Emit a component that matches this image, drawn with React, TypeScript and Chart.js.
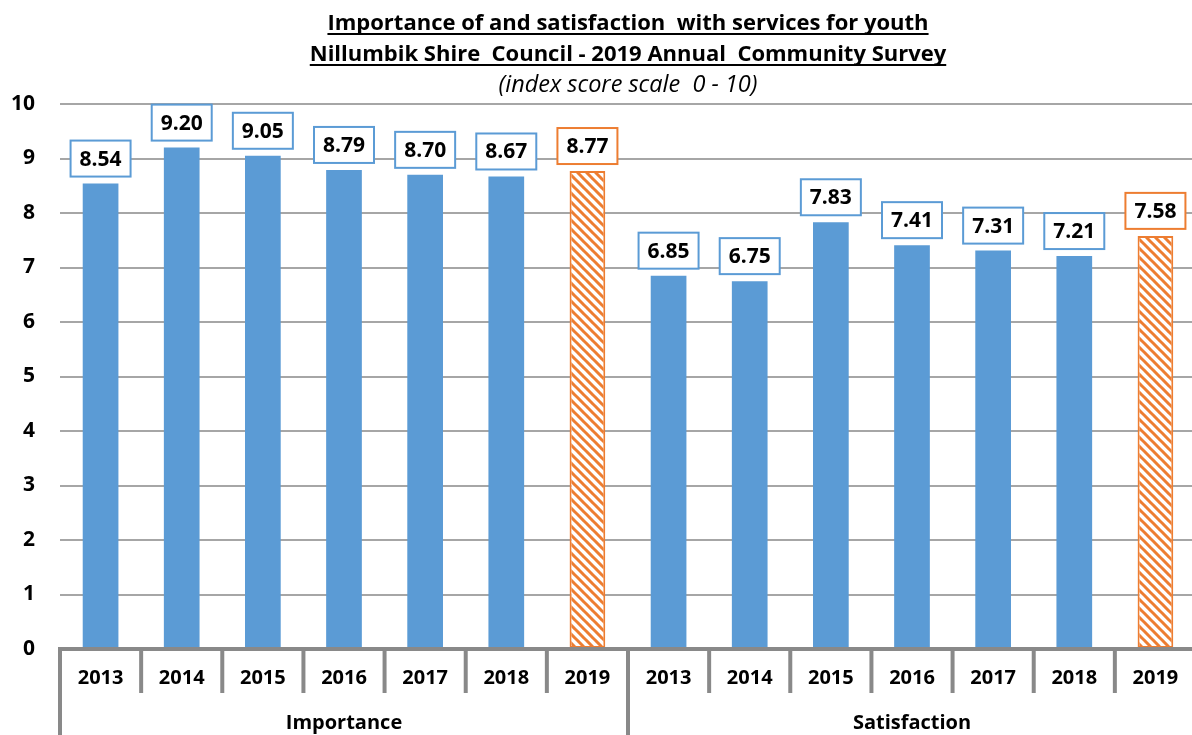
import React, { useEffect, useRef } from "react";
import { Chart, registerables } from "chart.js";

Chart.register(...registerables);

const years = ["2013", "2014", "2015", "2016", "2017", "2018", "2019"];
const groups = ["Importance", "Satisfaction"];
const importance = [8.54, 9.2, 9.05, 8.79, 8.7, 8.67, 8.77];
const satisfaction = [6.85, 6.75, 7.83, 7.41, 7.31, 7.21, 7.58];
const titleLines = [
  "Importance of and satisfaction  with services for youth",
  "Nillumbik Shire  Council - 2019 Annual  Community Survey",
];
const subtitle = "(index score scale  0 - 10)";
const yMin = 0;
const yMax = 10;
const yStep = 1;

const BLUE = "#5b9bd5";
const ORANGE = "#ed7d31";
const GRID = "#a6a6a6";
const AXIS = "#898989";
const FONT = "'Open Sans', Lato, sans-serif";

const labels = [...years, ...years];
const values = [...importance, ...satisfaction];
const isCurrent = labels.map((l) => l === "2019");

function makePattern(): CanvasPattern | string {
  const p = document.createElement("canvas");
  p.width = 9;
  p.height = 9;
  const c = p.getContext("2d");
  if (!c) return ORANGE;
  c.fillStyle = "#ffffff";
  c.fillRect(0, 0, 9, 9);
  c.strokeStyle = ORANGE;
  c.lineWidth = 3;
  c.beginPath();
  for (const k of [-9, 0, 9]) {
    c.moveTo(k - 1, -1);
    c.lineTo(k + 10, 10);
  }
  c.stroke();
  const pat = c.createPattern(p, "repeat");
  return pat || ORANGE;
}

const titlePlugin = {
  id: "titlePlugin",
  afterDraw(chart: any) {
    const { ctx, chartArea } = chart;
    const cx = (chartArea.left + chartArea.right) / 2;
    ctx.save();
    ctx.fillStyle = "#000";
    ctx.textAlign = "center";
    ctx.textBaseline = "alphabetic";
    ctx.font = `bold 22px ${FONT}`;
    const ys = [30, 61];
    titleLines.forEach((t, i) => {
      ctx.fillText(t, cx, ys[i]);
      const w = ctx.measureText(t).width;
      ctx.fillRect(cx - w / 2, ys[i] + 3, w, 2);
    });
    ctx.font = `italic 23.5px ${FONT}`;
    ctx.fillText(subtitle, cx, 92);
    ctx.restore();
  },
};

const axisPlugin = {
  id: "axisPlugin",
  afterDatasetsDraw(chart: any) {
    const { ctx, chartArea } = chart;
    const x = chart.scales.x;
    const n = labels.length;
    const half = (x.getPixelForValue(1) - x.getPixelForValue(0)) / 2;
    const bottom = chartArea.bottom;
    const H = chart.height;
    ctx.save();
    ctx.strokeStyle = AXIS;
    ctx.lineWidth = 4;
    ctx.beginPath();
    ctx.moveTo(chartArea.left - 2, bottom);
    ctx.lineTo(chart.width, bottom);
    ctx.stroke();
    for (let i = 0; i <= n; i++) {
      const bx = i < n ? x.getPixelForValue(i) - half : x.getPixelForValue(n - 1) + half;
      const isGroup = i % years.length === 0;
      ctx.beginPath();
      ctx.moveTo(bx, bottom);
      ctx.lineTo(bx, isGroup ? H : bottom + 44);
      ctx.stroke();
    }
    ctx.fillStyle = "#000";
    ctx.textAlign = "center";
    ctx.textBaseline = "middle";
    ctx.font = `bold 20px ${FONT}`;
    labels.forEach((l, i) => {
      ctx.fillText(l, x.getPixelForValue(i), bottom + 29);
    });
    groups.forEach((g, gi) => {
      const a = x.getPixelForValue(gi * years.length) - half;
      const b = x.getPixelForValue(gi * years.length + years.length - 1) + half;
      ctx.fillText(g, (a + b) / 2, bottom + 74);
    });
    ctx.restore();
  },
};

const labelPlugin = {
  id: "labelPlugin",
  afterDatasetsDraw(chart: any) {
    const { ctx } = chart;
    const meta = chart.getDatasetMeta(0);
    ctx.save();
    ctx.font = `bold 21px ${FONT}`;
    ctx.textAlign = "center";
    ctx.textBaseline = "middle";
    meta.data.forEach((bar: any, i: number) => {
      const bw = 60;
      const bh = 36;
      const bx = bar.x - bw / 2;
      const by = bar.y - 7 - bh;
      ctx.fillStyle = "#fff";
      ctx.fillRect(bx, by, bw, bh);
      ctx.strokeStyle = isCurrent[i] ? ORANGE : BLUE;
      ctx.lineWidth = 2;
      ctx.strokeRect(bx, by, bw, bh);
      ctx.fillStyle = "#000";
      ctx.fillText(values[i].toFixed(2), bar.x, by + bh / 2 + 1);
    });
    ctx.restore();
  },
};

export default function App() {
  const ref = useRef<HTMLCanvasElement | null>(null);
  useEffect(() => {
    document.body.style.margin = "0";
    document.body.style.overflow = "hidden";
    const canvas = ref.current;
    if (!canvas) return;
    const pattern = makePattern();
    const chart = new Chart(canvas, {
      type: "bar",
      data: {
        labels,
        datasets: [
          {
            data: values,
            backgroundColor: isCurrent.map((c) => (c ? pattern : BLUE)) as any,
            borderColor: isCurrent.map((c) => (c ? ORANGE : BLUE)),
            borderWidth: isCurrent.map((c) => (c ? 2 : 0)),
            borderSkipped: false,
            barPercentage: 0.44,
            categoryPercentage: 1,
          },
        ],
      },
      options: {
        animation: false,
        responsive: true,
        maintainAspectRatio: false,
        layout: { padding: { top: 104, bottom: 86, left: 0, right: 0 } },
        plugins: {
          legend: { display: false },
          title: { display: false },
          tooltip: { enabled: false },
        },
        scales: {
          x: {
            display: false,
            offset: true,
          },
          y: {
            min: yMin,
            max: yMax,
            ticks: {
              stepSize: yStep,
              color: "#000",
              font: { family: FONT, size: 21, weight: "bold" },
              padding: 25,
            },
            grid: { color: GRID, lineWidth: 2, drawTicks: false },
            border: { display: false },
            afterFit: (s: any) => {
              s.width = 60;
              s.paddingTop = 0;
              s.paddingBottom = 0;
            },
          },
        },
      },
      plugins: [titlePlugin, axisPlugin, labelPlugin],
    });
    return () => chart.destroy();
  }, []);
  return (
    <div style={{ position: "fixed", left: 0, top: 0, width: 1196, height: 735, background: "#fff" }}>
      <canvas ref={ref} />
    </div>
  );
}
